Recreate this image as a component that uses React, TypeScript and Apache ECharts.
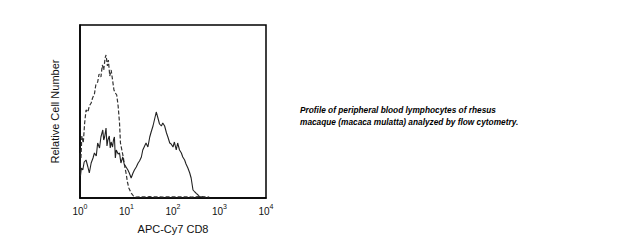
import React, { useEffect, useRef } from "react";
import * as echarts from "echarts";

// x values are log10(fluorescence), y values are relative cell counts
const decadeTicks = [0, 1, 2, 3, 4];

const cd8Stained: [number, number][] = [
  [0.0, 45], [0.01, 22], [0.03, 30], [0.06, 28], [0.09, 36], [0.13, 38], [0.17, 31],
  [0.2, 25], [0.24, 35], [0.28, 40], [0.31, 45], [0.35, 42], [0.38, 55], [0.42, 50],
  [0.45, 61], [0.49, 68], [0.51, 58], [0.53, 61], [0.56, 70], [0.58, 52], [0.6, 58],
  [0.63, 62], [0.65, 50], [0.67, 56], [0.7, 51], [0.72, 58], [0.74, 61], [0.76, 40],
  [0.78, 48], [0.82, 44], [0.85, 45], [0.88, 35], [0.92, 41], [0.95, 34], [0.99, 31],
  [1.03, 28], [1.06, 25], [1.1, 20], [1.14, 25], [1.17, 28], [1.21, 31], [1.25, 35],
  [1.28, 37], [1.32, 41], [1.35, 48], [1.39, 52], [1.42, 55], [1.46, 51], [1.5, 61],
  [1.53, 66], [1.57, 72], [1.6, 78], [1.64, 86], [1.67, 81], [1.71, 74], [1.75, 72],
  [1.78, 75], [1.82, 72], [1.86, 65], [1.89, 61], [1.93, 55], [1.96, 54], [2.0, 51],
  [2.03, 56], [2.07, 48], [2.1, 55], [2.14, 48], [2.18, 45], [2.21, 41], [2.25, 38],
  [2.28, 34], [2.32, 30], [2.36, 25], [2.39, 20], [2.43, 8], [2.47, 6], [2.5, 4.7],
  [2.54, 3], [2.57, 1.5], [2.64, 0.7], [2.71, 0.5],
];

const isotypeControl: [number, number][] = [
  [0.02, 40], [0.04, 62], [0.07, 55], [0.1, 75], [0.13, 88], [0.17, 86], [0.2, 92],
  [0.24, 95], [0.27, 100], [0.31, 104], [0.34, 113], [0.38, 116], [0.41, 124],
  [0.45, 121], [0.48, 133], [0.51, 128], [0.54, 140], [0.56, 143], [0.59, 132],
  [0.61, 138], [0.64, 122], [0.67, 128], [0.7, 118], [0.73, 108], [0.76, 105],
  [0.79, 103], [0.82, 92], [0.85, 75], [0.87, 55], [0.9, 48], [0.93, 41], [0.96, 32],
  [0.99, 25], [1.02, 16], [1.05, 10], [1.1, 5], [1.15, 2], [1.2, 1], [1.5, 1.3],
  [1.8, 1], [2.1, 1.2], [2.4, 1], [2.6, 1.4], [2.78, 1],
];

const xTitle = "APC-Cy7 CD8";
const yTitle = "Relative Cell Number";
const captionLines = [
  "Profile of peripheral blood lymphocytes of rhesus",
  "macaque (macaca mulatta) analyzed by flow cytometry.",
];

const FONT = "'Liberation Sans', Arial, sans-serif";

export default function App() {
  const ref = useRef<HTMLDivElement>(null);
  useEffect(() => {
    if (!ref.current) return;
    const chart = echarts.init(ref.current, null, { renderer: "svg" });
    chart.setOption({
      animation: false,
      backgroundColor: "#fff",
      grid: {
        left: 80,
        right: 359,
        top: 25,
        bottom: 47,
        show: true,
        borderColor: "#000",
        borderWidth: 1.5,
        backgroundColor: "transparent",
      },
      xAxis: {
        type: "value",
        min: 0,
        max: 4,
        interval: 1,
        name: xTitle,
        nameLocation: "middle",
        nameGap: 25,
        nameTextStyle: { fontFamily: FONT, fontSize: 11, color: "#111" },
        axisLine: { show: true, lineStyle: { color: "#000", width: 1.5 } },
        axisTick: { show: false },
        splitLine: { show: false },
        axisLabel: {
          margin: 5,
          formatter: (v: number) =>
            decadeTicks.includes(v) ? `{b|10}{s|${v}}` : "",
          rich: {
            b: { fontFamily: FONT, fontSize: 10, color: "#111", verticalAlign: "bottom" },
            s: { fontFamily: FONT, fontSize: 7, color: "#111", verticalAlign: "top", padding: [0, 0, 6, 0] },
          },
        },
      },
      yAxis: {
        type: "value",
        min: 0,
        max: 173,
        name: yTitle,
        nameLocation: "middle",
        nameGap: 20,
        nameTextStyle: { fontFamily: FONT, fontSize: 11, color: "#111" },
        axisLine: { show: true, lineStyle: { color: "#000", width: 1.5 } },
        axisTick: { show: false },
        axisLabel: { show: false },
        splitLine: { show: false },
      },
      series: [
        {
          type: "line",
          data: isotypeControl,
          showSymbol: false,
          lineStyle: { color: "#333", width: 1.2, type: [4, 2] },
          z: 2,
        },
        {
          type: "line",
          data: cd8Stained,
          showSymbol: false,
          lineStyle: { color: "#222", width: 1.1 },
          z: 3,
        },
      ],
      graphic: captionLines.map((t, i) => ({
        type: "text",
        left: 300,
        top: 106 + i * 12,
        style: {
          text: t,
          fontFamily: FONT,
          fontSize: 8.3,
          fontWeight: "bold",
          fontStyle: "italic",
          fill: "#000",
        },
      })),
    });
    return () => chart.dispose();
  }, []);
  return (
    <div
      ref={ref}
      style={{ position: "fixed", left: 0, top: 0, width: 625, height: 245 }}
    />
  );
}
